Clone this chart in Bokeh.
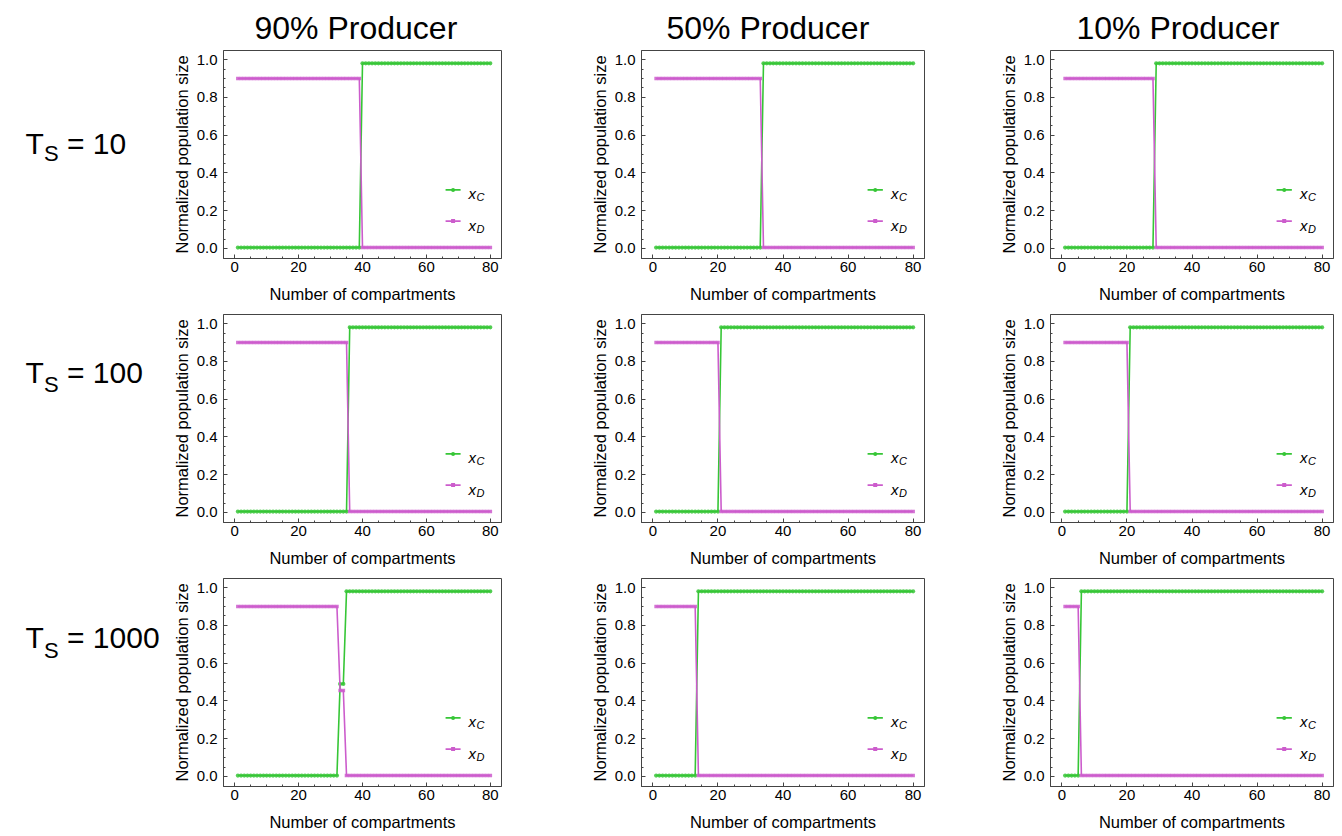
from bokeh.plotting import figure
from bokeh.models import Range1d, FixedTicker, PrintfTickFormatter, Label
from bokeh.layouts import row, column
from bokeh.core.properties import value
from bokeh.embed import file_html
from bokeh.resources import INLINE

# ---------------- data ----------------
COMPARTMENTS = list(range(1, 81))

COL_TITLES = ["90% Producer", "50% Producer", "10% Producer"]
ROW_TS = ["10", "100", "1000"]

LOW = 0.005
C_HIGH = 0.98
D_HIGH = 0.90

# Ts = 10
XC_10_90 = [LOW] * 39 + [C_HIGH] * 41
XD_10_90 = [D_HIGH] * 39 + [LOW] * 41
XC_10_50 = [LOW] * 33 + [C_HIGH] * 47
XD_10_50 = [D_HIGH] * 33 + [LOW] * 47
XC_10_10 = [LOW] * 28 + [C_HIGH] * 52
XD_10_10 = [D_HIGH] * 28 + [LOW] * 52
# Ts = 100
XC_100_90 = [LOW] * 35 + [C_HIGH] * 45
XD_100_90 = [D_HIGH] * 35 + [LOW] * 45
XC_100_50 = [LOW] * 20 + [C_HIGH] * 60
XD_100_50 = [D_HIGH] * 20 + [LOW] * 60
XC_100_10 = [LOW] * 20 + [C_HIGH] * 60
XD_100_10 = [D_HIGH] * 20 + [LOW] * 60
# Ts = 1000
XC_1000_90 = [LOW] * 32 + [0.49, 0.49] + [C_HIGH] * 46
XD_1000_90 = [D_HIGH] * 32 + [0.455, 0.455] + [LOW] * 46
XC_1000_50 = [LOW] * 13 + [C_HIGH] * 67
XD_1000_50 = [D_HIGH] * 13 + [LOW] * 67
XC_1000_10 = [LOW] * 5 + [C_HIGH] * 75
XD_1000_10 = [D_HIGH] * 5 + [LOW] * 75

PANELS = [
    [(XC_10_90, XD_10_90), (XC_10_50, XD_10_50), (XC_10_10, XD_10_10)],
    [(XC_100_90, XD_100_90), (XC_100_50, XD_100_50), (XC_100_10, XD_100_10)],
    [(XC_1000_90, XD_1000_90), (XC_1000_50, XD_1000_50), (XC_1000_10, XD_1000_10)],
]

X_TICKS = [0, 20, 40, 60, 80]
X_MINOR = list(range(0, 85, 5))
Y_TICKS = [0.0, 0.2, 0.4, 0.6, 0.8, 1.0]
Y_MINOR = [i * 0.05 for i in range(0, 21)]

LEG_LINE_X = [66.0, 70.7]
LEG_DOT_X = [68.35]
LEG_TEXT_X = 73.2
LEG_Y = [0.31, 0.145]
LEG_SUB = ["C", "D"]

# ---------------- style / layout ----------------
FONT = "Liberation Sans"
GREEN = "#36c636"
MAGENTA = "#cc5ccc"
FRAME = "#444444"

COL_W = [418, 409, 345]
COL_BL = [60, 60, 60]
COL_BR = [80, 66, 2]
ROW_H = [308, 264, 264]
ROW_BT = [50, 6, 6]
ROW_BB = [50, 50, 50]
LEFT_W = 163
TITLE_OFFSET = [31, 25, 26]         # px from the frame's left edge
ROW_LABEL_X = [25, 43.5, 66.5]
ROW_LABEL_BASE = [137, 73, 75]      # baseline in each row-label strip (px from top)


def blank(width, height):
    f = figure(width=width, height=height, output_backend="svg", toolbar_location=None,
               x_range=Range1d(0, width), y_range=Range1d(height, 0),
               x_axis_type=None, y_axis_type=None,
               min_border=0, min_border_left=0, min_border_right=0,
               min_border_top=0, min_border_bottom=0)
    f.grid.visible = False
    f.outline_line_color = None
    return f


def make_panel(xc, xd, r, c):
    p = figure(width=COL_W[c], height=ROW_H[r], output_backend="svg",
               toolbar_location=None,
               x_range=Range1d(-3.5, 83.5), y_range=Range1d(-0.053, 1.048),
               min_border_left=COL_BL[c], min_border_right=COL_BR[c],
               min_border_top=ROW_BT[r], min_border_bottom=ROW_BB[r])
    p.grid.visible = False
    p.outline_line_color = FRAME
    p.outline_line_width = 1

    if r == 0:
        p.title.text = COL_TITLES[c]
        p.title.text_font = FONT
        p.title.text_font_size = "32px"
        p.title.text_font_style = "normal"
        p.title.text_color = "black"
        p.title.align = "left"
        p.title.offset = TITLE_OFFSET[c]
        p.title.standoff = 10

    p.line(COMPARTMENTS, xc, line_color=GREEN, line_width=1.6)
    p.scatter(COMPARTMENTS, xc, marker="circle", size=4.2, fill_color=GREEN,
              line_color=None, fill_alpha=0.85)
    p.line(COMPARTMENTS, xd, line_color=MAGENTA, line_width=1.6)
    p.scatter(COMPARTMENTS, xd, marker="square", size=3.6, fill_color=MAGENTA,
              line_color=None, fill_alpha=0.85)

    # legend
    for ly, sub, col, mk in zip(LEG_Y, LEG_SUB, [GREEN, MAGENTA], ["circle", "square"]):
        p.line(LEG_LINE_X, [ly, ly], line_color=col, line_width=1.6)
        p.scatter(LEG_DOT_X, [ly], marker=mk, size=4, fill_color=col, line_color=None)
        p.add_layout(Label(x=LEG_TEXT_X, y=ly - 0.021, text="x", text_font=FONT,
                           text_font_size="15px", text_font_style="italic",
                           text_baseline="alphabetic", text_color="black"))
        p.add_layout(Label(x=LEG_TEXT_X, y=ly - 0.040, x_offset=8, text=sub,
                           text_font=FONT, text_font_size="11px",
                           text_font_style="italic", text_baseline="alphabetic",
                           text_color="black"))

    xa = p.xaxis[0]
    ya = p.yaxis[0]
    xa.ticker = FixedTicker(ticks=X_TICKS, minor_ticks=X_MINOR)
    ya.ticker = FixedTicker(ticks=Y_TICKS, minor_ticks=Y_MINOR)
    ya.formatter = PrintfTickFormatter(format="%.1f")
    xa.axis_label = "Number of compartments"
    ya.axis_label = "Normalized population size"
    for ax in (xa, ya):
        ax.axis_line_color = FRAME
        ax.major_tick_line_color = FRAME
        ax.minor_tick_line_color = FRAME
        ax.major_tick_in = 4
        ax.major_tick_out = 0
        ax.minor_tick_in = 2
        ax.minor_tick_out = 0
        ax.major_label_text_font = FONT
        ax.major_label_text_font_size = "15px"
        ax.major_label_text_color = "black"
        ax.axis_label_text_font = FONT
        ax.axis_label_text_font_size = "16.5px"
        ax.axis_label_text_font_style = "normal"
        ax.axis_label_text_color = "black"
    xa.major_label_standoff = 3
    xa.axis_label_standoff = 10
    ya.major_label_standoff = 6
    ya.axis_label_standoff = 3
    return p


rows = []
for r in range(3):
    lf = blank(LEFT_W, ROW_H[r])
    b = ROW_LABEL_BASE[r]
    lf.text(x=[ROW_LABEL_X[0]], y=[b], text=["T"], text_font=value(FONT),
            text_font_size="30px", text_baseline="alphabetic", text_color="black")
    lf.text(x=[ROW_LABEL_X[1]], y=[b + 16], text=["S"], text_font=value(FONT),
            text_font_size="22px", text_baseline="alphabetic", text_color="black")
    lf.text(x=[ROW_LABEL_X[2]], y=[b], text=["= " + ROW_TS[r]], text_font=value(FONT),
            text_font_size="30px", text_baseline="alphabetic", text_color="black")
    cells = [lf]
    for c in range(3):
        xc, xd = PANELS[r][c]
        cells.append(make_panel(xc, xd, r, c))
    rows.append(row(*cells, spacing=0))

layout = column(*rows, spacing=0)

open("out.html", "w").write(file_html(layout, INLINE))
